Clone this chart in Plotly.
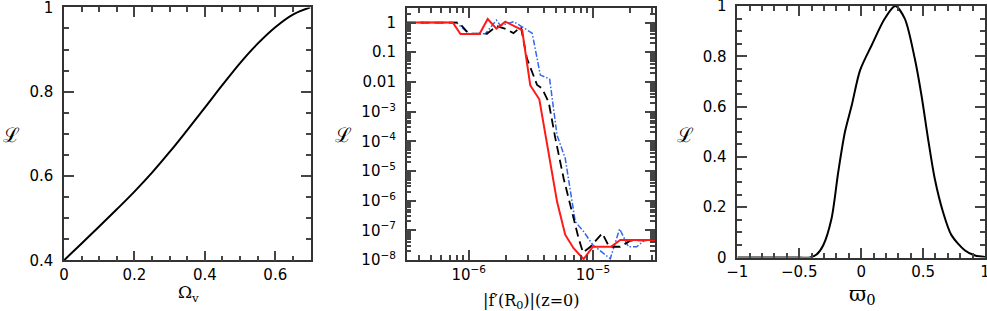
import plotly.graph_objects as go

# ---------------- data ----------------
# Panel 1: likelihood vs Omega_v
omega_v = [0.0, 0.05, 0.1, 0.15, 0.2, 0.25, 0.3, 0.35, 0.4, 0.45, 0.5, 0.55, 0.6, 0.65, 0.7]
like_omega = [0.400, 0.440, 0.480, 0.521, 0.563, 0.608, 0.657, 0.709, 0.762, 0.816, 0.868,
              0.914, 0.953, 0.983, 1.000]

# Panel 2: likelihood vs |f'(R0)|(z=0)
red_x = [3.16e-7, 7.43e-7, 8.57e-7, 1.22e-6, 1.42e-6, 1.67e-6, 1.97e-6, 2.69e-6, 3.13e-6,
         3.70e-6, 5.14e-6, 5.98e-6, 6.98e-6, 8.41e-6, 1.0e-5, 1.40e-5, 1.66e-5, 3.16e-5]
red_y = [1, 1, 0.41, 0.41, 1.32, 0.62, 1.07, 0.56, 7.6e-3,
         2.6e-3, 9.3e-7, 7.1e-8, 2.5e-8, 1.07e-8, 2.8e-8, 2.8e-8, 4.7e-8, 4.7e-8]

black_x = [3.16e-7, 8.32e-7, 1.0e-6, 1.40e-6, 1.68e-6, 2.0e-6, 2.29e-6, 2.63e-6, 2.94e-6,
           3.55e-6, 3.89e-6, 4.40e-6, 4.98e-6, 5.81e-6, 6.98e-6, 7.66e-6, 8.32e-6, 9.55e-6,
           1.19e-5, 1.35e-5, 1.66e-5, 2.0e-5, 3.16e-5]
black_y = [1, 1, 0.42, 0.42, 0.76, 0.60, 0.44, 0.71, 0.062,
           7.9e-3, 6.0e-3, 2.1e-3, 1.26e-4, 5.6e-6, 2.6e-7, 5.4e-8, 1.8e-8, 2.8e-8,
           7.9e-8, 2.8e-8, 2.8e-8, 4.5e-8, 4.7e-8]

blue_x = [3.16e-7, 7.96e-7, 1.0e-6, 1.36e-6, 1.67e-6, 1.80e-6, 2.30e-6, 3.24e-6, 3.77e-6,
          4.48e-6, 5.14e-6, 5.98e-6, 7.21e-6, 8.41e-6, 1.0e-5, 1.38e-5, 1.64e-5, 1.93e-5,
          2.25e-5, 2.63e-5, 3.16e-5]
blue_y = [1, 1, 0.42, 0.42, 1.2, 0.78, 1.07, 0.44, 0.017,
          0.0126, 1.6e-4, 2.7e-5, 1.95e-7, 9.1e-8, 3.2e-8, 1.1e-8, 1.12e-7, 2.8e-8,
          2.8e-8, 4.8e-8, 4.8e-8]

# Panel 3: likelihood vs varpi_0
varpi0 = [-1.0, -0.5, -0.414, -0.36, -0.306, -0.239, -0.185, -0.131, -0.076, -0.009, 0.084,
          0.191, 0.275, 0.352, 0.433, 0.487, 0.54, 0.594, 0.661, 0.729, 0.836, 0.92, 1.0]
like_varpi = [0.0, 0.0, 0.0, 0.012, 0.049, 0.155, 0.340, 0.499, 0.605, 0.744, 0.843,
              0.950, 1.0, 0.95, 0.791, 0.645, 0.473, 0.314, 0.181, 0.089, 0.029, 0.008, 0.002]

y_log_vals = [1e-8, 1e-7, 1e-6, 1e-5, 1e-4, 1e-3, 1e-2, 1e-1, 1]
y_log_text = ["10<sup>−8</sup>", "10<sup>−7</sup>", "10<sup>−6</sup>", "10<sup>−5</sup>",
              "10<sup>−4</sup>", "10<sup>−3</sup>", "0.01", "0.1", "1"]
x_log_vals = [1e-6, 1e-5]
x_log_text = ["10<sup>−6</sup>", "10<sup>−5</sup>"]

# ---------------- figure ----------------
W, H = 987, 311
fig = go.Figure()

fig.add_trace(go.Scatter(x=omega_v, y=like_omega, mode="lines", line=dict(color="black", width=2, shape="spline"),
                         xaxis="x", yaxis="y", showlegend=False))
fig.add_trace(go.Scatter(x=blue_x, y=blue_y, mode="lines", line=dict(color="#3366ee", width=1.5, dash="6px,2px,1.5px,2px"),
                         xaxis="x2", yaxis="y2", showlegend=False))
fig.add_trace(go.Scatter(x=black_x, y=black_y, mode="lines", line=dict(color="black", width=1.8, dash="9px,5px"),
                         xaxis="x2", yaxis="y2", showlegend=False))
fig.add_trace(go.Scatter(x=red_x, y=red_y, mode="lines", line=dict(color="#ff1a1a", width=2),
                         xaxis="x2", yaxis="y2", showlegend=False))
fig.add_trace(go.Scatter(x=varpi0, y=like_varpi, mode="lines", line=dict(color="black", width=2, shape="spline", smoothing=0.8),
                         xaxis="x3", yaxis="y3", showlegend=False))

TICKFONT = dict(family="DejaVu Sans", size=15, color="black")
TC = "#444444"
AX = dict(showline=True, linecolor="#333333", linewidth=1.5, mirror="ticks", ticks="inside",
          tickcolor=TC, tickwidth=2, ticklen=10, showgrid=False, zeroline=False,
          tickfont=TICKFONT, automargin=False, ticklabeloverflow="allow")


def px_dom_x(a, b):
    return [a / W, b / W]


def px_dom_y(top, bottom):
    return [(H - bottom) / H, (H - top) / H]


def minor_lin(d):
    return dict(ticks="inside", dtick=d, ticklen=5, tickcolor=TC, tickwidth=2)


def minor_vals(vals):
    return dict(ticks="inside", tickvals=vals, ticklen=5, tickcolor=TC, tickwidth=2)


x_minor_log = [k * 10.0 ** n for n in (-7, -6, -5) for k in range(2, 10) if 3.1e-7 < k * 10.0 ** n < 3.2e-5]
y_minor_log = [k * 10.0 ** n for n in range(-8, 1) for k in range(2, 10) if k * 10.0 ** n < 3.0]

fig.update_layout(
    template="none",
    width=W, height=H, margin=dict(l=0, r=0, t=0, b=0, pad=0),
    paper_bgcolor="white", plot_bgcolor="white",
    xaxis=dict(AX, domain=px_dom_x(64, 310.5), range=[0, 0.7], dtick=0.2, tick0=0,
               minor=minor_lin(0.05), anchor="y"),
    yaxis=dict(AX, domain=px_dom_y(7.4, 260.3), range=[0.4, 1.0], tickvals=[0.4, 0.6, 0.8, 1.0],
               ticktext=["0.4", "0.6", "0.8", "1"], minor=minor_lin(0.05), anchor="x",
               ticklabelstandoff=6),
    xaxis2=dict(AX, type="log", domain=px_dom_x(406.7, 655), range=[-6.5, -4.5],
                tickvals=x_log_vals, ticktext=x_log_text, anchor="y2", minor=minor_vals(x_minor_log)),
    yaxis2=dict(AX, type="log", domain=px_dom_y(8.3, 260), range=[-8, 0.48],
                tickvals=y_log_vals, ticktext=y_log_text, anchor="x2", ticklabelstandoff=6,
                minor=minor_vals(y_minor_log)),
    xaxis3=dict(AX, domain=px_dom_x(737.3, 985), range=[-1, 1], dtick=0.5, tick0=0,
                minor=minor_lin(0.1), anchor="y3"),
    yaxis3=dict(AX, domain=px_dom_y(6.0, 257.5), range=[0, 1], tickvals=[0, 0.2, 0.4, 0.6, 0.8, 1.0],
                ticktext=["0", "0.2", "0.4", "0.6", "0.8", "1"], minor=minor_lin(0.05), anchor="x3",
                ticklabelstandoff=6),
)

TITLEFONT = dict(family="DejaVu Serif", size=16, color="black")
LFONT = dict(family="DejaVu Serif", size=20, color="black")


def ann(text, x, y, font, xanchor="center"):
    fig.add_annotation(text=text, x=x / W, y=(H - y) / H, xref="paper", yref="paper",
                       showarrow=False, font=font, xanchor=xanchor, yanchor="middle")


ann("Ω<sub>v</sub>", 188, 293, dict(family="DejaVu Serif", size=17, color="black"))
ann("|f′(R<sub>0</sub>)|(z=0)", 531, 301, TITLEFONT)
ann("ϖ<sub>0</sub>", 862, 295, dict(family="DejaVu Serif", size=21, color="black"))
ann("ℒ", 1, 135, LFONT, "left")
ann("ℒ", 333, 135, LFONT, "left")
ann("ℒ", 675, 135, LFONT, "left")

fig.write_html("out.html", config={"displayModeBar": False},
               post_script="document.body.style.margin='0';document.body.style.overflow='hidden';")
